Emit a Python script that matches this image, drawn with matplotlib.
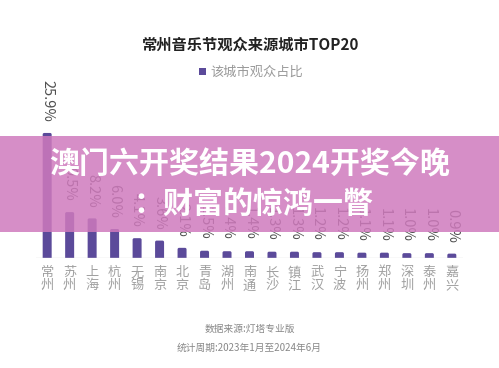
import matplotlib
matplotlib.use("Agg")
import matplotlib.pyplot as plt
from matplotlib.patches import Rectangle, FancyBboxPatch

plt.rcParams['font.family'] = ['Noto Sans CJK SC', 'DejaVu Sans']

cities = ["常州", "苏州", "上海", "杭州", "无锡", "南京", "北京", "青岛", "湖州", "南通",
          "长沙", "镇江", "武汉", "宁波", "扬州", "郑州", "深圳", "泰州", "嘉兴"]
shares = [25.9, 9.5, 8.2, 6.0, 4.1, 3.6, 2.1, 1.5, 1.4, 1.4,
          1.3, 1.3, 1.2, 1.2, 1.1, 1.1, 1.0, 1.0, 0.9]

title = "常州音乐节观众来源城市TOP20"
legend_label = "该城市观众占比"
source = "数据来源:灯塔专业版"
period = "统计周期:2023年1月至2024年6月"
banner_lines = ["澳门六开奖结果2024开奖今晚", "：财富的惊鸿一瞥"]

bar_color = "#5b4a9a"

fig = plt.figure(figsize=(4.99, 3.68), dpi=100)
ax = fig.add_axes([0.072, 0.299, 0.856, 0.484])

x = list(range(len(cities)))
bars = ax.bar(x, shares, width=0.4, color=bar_color)
ax.set_xlim(-0.5, len(cities) - 0.5)
ax.set_ylim(0, 36.9)

# swap plain bars for rounded ones (bottom pushed below axis and clipped)
aspect = (36.9 / 178) / (19 / 427)
for b in bars:
    b.set_visible(False)
    p = FancyBboxPatch((b.get_x(), -2), b.get_width(), b.get_height() + 2,
                       boxstyle="round,pad=0,rounding_size=0.07",
                       mutation_aspect=aspect, color=bar_color, lw=0)
    ax.add_patch(p)

for xi, v in zip(x, shares):
    ax.annotate(f"{v:.1f}%", (xi, v), xytext=(0, 8), textcoords="offset points",
                rotation=-90, ha="center", va="bottom", fontsize=10.5, color="#505050")

ax.axhline(0, color="#dddddd", lw=1)
for s in ax.spines.values():
    s.set_visible(False)
ax.set_yticks([])
ax.set_xticks(x)
ax.set_xticklabels(["\n".join(c) for c in cities], fontsize=9.5, color="#a0a0a0",
                   linespacing=1.0)
ax.tick_params(axis="x", length=0, pad=6)

fig.text(0.503, 0.878, title, ha="center", va="center", fontsize=11,
         fontweight="bold", color="#222222")
fig.patches.append(Rectangle((0.399, 0.795), 0.014, 0.019, transform=fig.transFigure,
                             color=bar_color, lw=0))
fig.text(0.421, 0.804, legend_label, ha="left", va="center", fontsize=9.5, color="#999999")

fig.text(0.5, 0.106, source, ha="center", va="center", fontsize=7, color="#888888")
fig.text(0.5, 0.054, period, ha="center", va="center", fontsize=7, color="#888888")

# pink banner overlay
fig.patches.append(Rectangle((0, 0.37), 1, 0.261, transform=fig.transFigure,
                             color="#cf7abd", alpha=0.85, lw=0, zorder=5))
fig.text(0.5, 0.552, banner_lines[0], ha="center", va="center", fontsize=21.6,
         fontweight="heavy", color="white", zorder=6)
fig.text(0.508, 0.446, banner_lines[1], ha="center", va="center", fontsize=21.6,
         fontweight="heavy", color="white", zorder=6)

fig.savefig("out.png", dpi=100)
